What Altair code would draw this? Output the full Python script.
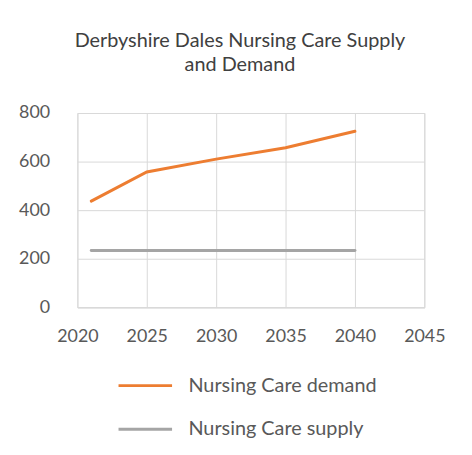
import altair as alt
import pandas as pd

years = [2021, 2025, 2030, 2035, 2040]
demand = [437, 557, 610, 657, 725]
supply = [234, 234, 234, 234, 234]
series_names = ["Nursing Care demand", "Nursing Care supply"]
series_colors = ["#ED7D31", "#A5A5A5"]
x_ticks = [2020, 2025, 2030, 2035, 2040, 2045]
y_ticks = [0, 200, 400, 600, 800]

rows = []
for name, vals in zip(series_names, [demand, supply]):
    for y, v in zip(years, vals):
        rows.append({"Year": y, "Value": v, "Series": name})
df = pd.DataFrame(rows)

FONT = "Lato"
TXT = "#595959"
GRID = "#D9D9D9"

chart = alt.Chart(df).mark_line(strokeWidth=3, strokeCap="round").encode(
    x=alt.X("Year:Q", scale=alt.Scale(domain=[2020, 2045], nice=False, zero=False),
            axis=alt.Axis(values=x_ticks, format="d", title=None,
                          grid=True, gridColor=GRID, gridOpacity=1, gridWidth=1,
                          domainColor=GRID, ticks=False, labelFlush=False,
                          labelFont=FONT, labelFontSize=18, labelColor=TXT, labelPadding=20)),
    y=alt.Y("Value:Q", scale=alt.Scale(domain=[0, 800], nice=False),
            axis=alt.Axis(values=y_ticks, title=None, grid=True,
                          gridColor=GRID, gridOpacity=1, gridWidth=1, domain=False, ticks=False,
                          labelFont=FONT, labelFontSize=18, labelColor=TXT, labelPadding=28)),
    color=alt.Color("Series:N", scale=alt.Scale(domain=series_names, range=series_colors),
                    legend=alt.Legend(title=None, orient="none", legendX=40, legendY=265,
                                      symbolType="stroke", symbolSize=2916, symbolStrokeWidth=3,
                                      labelFont=FONT, labelFontSize=20, labelColor=TXT,
                                      labelLimit=400, clipHeight=20, rowPadding=24, labelOffset=15)),
).properties(
    width=350, height=196,
    title=alt.TitleParams(["Derbyshire Dales Nursing Care Supply", "and Demand"],
                          font=FONT, fontSize=20, fontWeight="normal", color="#404040",
                          anchor="middle", dx=-11, offset=29, lineHeight=25),
    autosize=alt.AutoSizeParams(type="none"),
    padding={"left": 70, "top": 104, "right": 40, "bottom": 140},
).configure_view(stroke=GRID)

chart.save("out.html", embed_options={"renderer": "svg", "actions": False})
